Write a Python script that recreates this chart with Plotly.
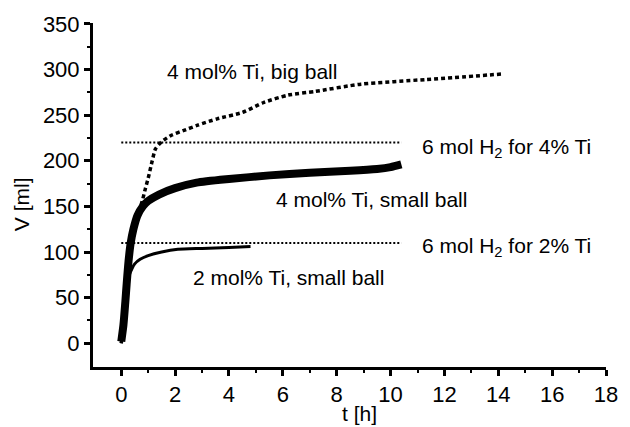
import plotly.graph_objects as go

# 4 mol% Ti, small ball (thick solid)
t_4s = [0, 0.08, 0.15, 0.2, 0.27, 0.35, 0.45, 0.6, 0.8, 1.0, 1.4, 2.0, 2.8, 4.0, 5.5, 7.0, 8.5, 9.5, 10.0, 10.4]
v_4s = [2, 20, 45, 65, 90, 110, 125, 140, 150, 156, 163, 170, 176, 180, 184, 187, 189, 191, 193, 196]

# 2 mol% Ti, small ball (thin solid)
t_2s = [0, 0.1, 0.2, 0.3, 0.4, 0.5, 0.7, 1.0, 1.5, 2.1, 3.0, 4.0, 4.8]
v_2s = [0, 25, 55, 75, 82, 87, 92, 96, 100, 103, 104, 105, 106]

# 4 mol% Ti, big ball (dotted)
t_4b = [0, 0.2, 0.4, 0.6, 0.77, 0.9, 1.0, 1.15, 1.27, 1.5, 1.86, 2.3, 2.84, 3.56, 4.5, 5.3, 6.2, 7.2, 8.9, 11.3, 14.1]
v_4b = [0, 60, 110, 140, 155, 170, 181, 200, 213, 221, 228, 233, 239, 246, 253, 264, 272, 276, 284, 289, 295]

# reference levels: 6 mol H2
t_ref = [0, 10.4]
v_ref4 = [220, 220]
v_ref2 = [110, 110]

x_ticks = [0, 2, 4, 6, 8, 10, 12, 14, 16, 18]
x_minor = [1, 3, 5, 7, 9, 11, 13, 15, 17]
y_ticks = [0, 50, 100, 150, 200, 250, 300, 350]
y_minor = [25, 75, 125, 175, 225, 275, 325]

label_texts = ["4 mol% Ti, big ball", "6 mol H<sub>2</sub> for 4% Ti", "4 mol% Ti, small ball",
               "6 mol H<sub>2</sub> for 2% Ti", "2 mol% Ti, small ball"]
label_t = [1.64, 11.1, 5.66, 11.1, 2.6]
label_v = [298, 214, 158, 105, 72]

FONT = "Liberation Sans, Arial, sans-serif"

fig = go.Figure()
fig.add_trace(go.Scatter(x=t_ref, y=v_ref4, mode="lines",
                         line=dict(color="black", width=2, dash="2px,2px")))
fig.add_trace(go.Scatter(x=t_ref, y=v_ref2, mode="lines",
                         line=dict(color="black", width=2, dash="2px,2px")))
fig.add_trace(go.Scatter(x=t_4b, y=v_4b, mode="lines",
                         line=dict(color="black", width=3.5, dash="4px,3px", shape="spline", smoothing=0.6)))
fig.add_trace(go.Scatter(x=t_2s, y=v_2s, mode="lines",
                         line=dict(color="black", width=3, shape="spline", smoothing=0.6)))
fig.add_trace(go.Scatter(x=t_4s, y=v_4s, mode="lines",
                         line=dict(color="black", width=8, shape="spline", smoothing=0.6)))

for text, x, y in zip(label_texts, label_t, label_v):
    fig.add_annotation(x=x, y=y, xref="x", yref="y", text=text, showarrow=False,
                       xanchor="left", yanchor="middle",
                       font=dict(family=FONT, size=21, color="black"))

fig.add_annotation(text="t [h]", x=(364 - 93) / 522, y=-(414 - 367) / 346, xref="paper", yref="paper",
                   showarrow=False, xanchor="center", yanchor="middle",
                   font=dict(family=FONT, size=21, color="black"))
fig.add_annotation(text="V [ml]", x=-(93 - 21) / 522, y=(367 - 203) / 346, xref="paper", yref="paper",
                   showarrow=False, xanchor="center", yanchor="middle", textangle=-90,
                   font=dict(family=FONT, size=21, color="black"))

fig.update_layout(
    width=630, height=427,
    margin=dict(l=93, r=15, t=21, b=60),
    paper_bgcolor="white", plot_bgcolor="white",
    showlegend=False,
    font=dict(family=FONT, size=22, color="black"),
)
fig.update_xaxes(range=[-1.05, 18], tickvals=x_ticks, showgrid=False, zeroline=False,
                 showline=True, linewidth=3, linecolor="black",
                 ticks="outside", ticklen=6, tickwidth=3, tickcolor="black",
                 minor=dict(tickvals=x_minor, ticks="outside", ticklen=3, tickwidth=2, tickcolor="black"),
                 tickfont=dict(family=FONT, size=22, color="black"))
fig.update_yaxes(range=[-26, 351], tickvals=y_ticks, showgrid=False, zeroline=False,
                 showline=True, linewidth=3, linecolor="black",
                 ticks="outside", ticklen=6, tickwidth=3, tickcolor="black",
                 minor=dict(tickvals=y_minor, ticks="outside", ticklen=3, tickwidth=2, tickcolor="black"),
                 tickfont=dict(family=FONT, size=22, color="black"))

fig.write_html("out.html", config={"displayModeBar": False},
               post_script="document.body.style.margin='0';document.body.style.overflow='hidden';")
